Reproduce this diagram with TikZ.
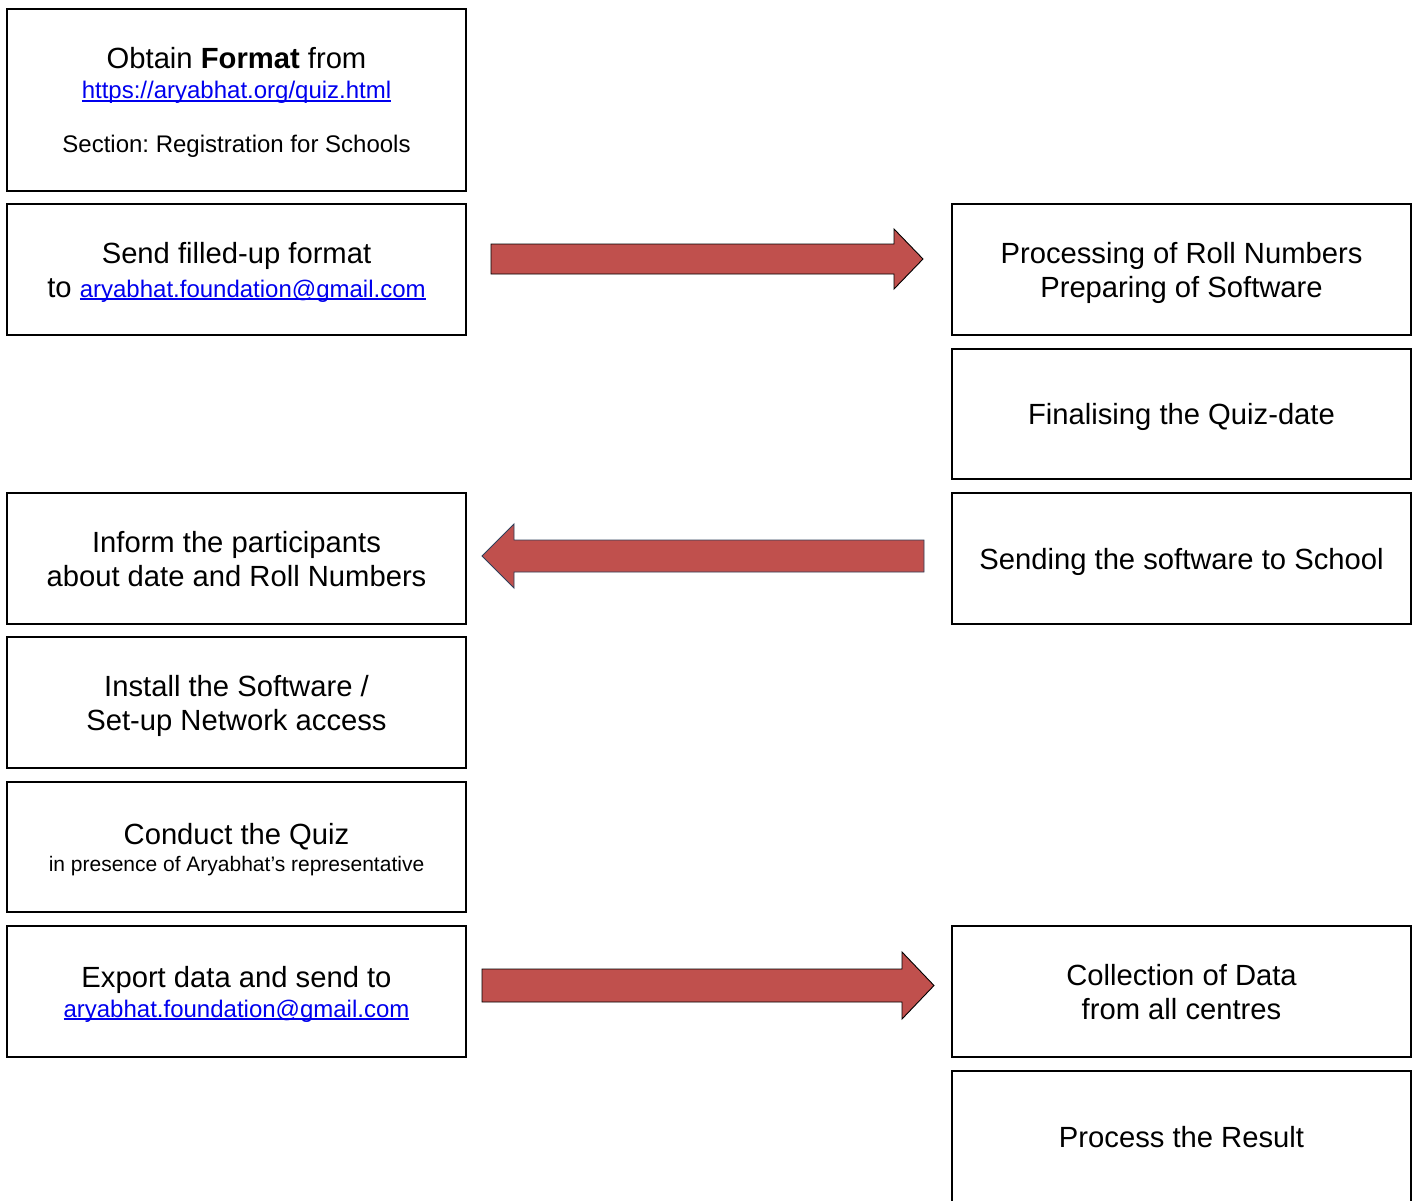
\documentclass[tikz,border=0pt]{standalone}
\usepackage{fontspec}
\setmainfont{Liberation Sans}
\frenchspacing
\definecolor{arrowred}{HTML}{C0504D}
\definecolor{linkblue}{HTML}{0000EE}
\definecolor{navyedge}{HTML}{2E3F5A}
\newcommand\ulink[1]{{\color{linkblue}\setbox0\hbox{#1}\rlap{\rule[-3pt]{\wd0}{1.6pt}}\box0}}
\newcommand\smalltxt{\fontsize{24}{28}\selectfont}
\newcommand\tinytxt{\fontsize{21}{25}\selectfont}
\begin{document}
\begin{tikzpicture}[x=1pt,y=-1pt,
  box/.style={draw=black, line width=2.3pt, fill=white, minimum width=459pt,
    align=center, inner sep=0pt, text depth=0pt, font=\fontsize{29.2}{34}\selectfont},
  bigarrow/.style={fill=arrowred, draw=black, line width=0.9pt, line join=miter}]
\clip (0,0) rectangle (1421,1201);
\fill[white] (0,0) rectangle (1421,1201);

% left column
\node[box, minimum height=182pt] (obtain) at (236.5,100)
  {Obtain \textbf{Format} from\\[-4pt]
   {\smalltxt\ulink{https://aryabhat.org/quiz.html}}\\[20pt]
   {\smalltxt Section: Registration for Schools}};
\node[box, minimum height=131pt] (send) at (236.5,269.5)
  {Send filled-up format\\
   to {\smalltxt\ulink{aryabhat.foundation@gmail.com}}};
\node[box, minimum height=131pt] (inform) at (236.5,558.5)
  {Inform the participants\\about date and Roll Numbers};
\node[box, minimum height=131pt] (install) at (236.5,702.5)
  {Install the Software /\\Set-up Network access};
\node[box, minimum height=130pt] (conduct) at (236.5,847)
  {Conduct the Quiz\\[-7pt]
   {\tinytxt in presence of Aryabhat’s representative}};
\node[box, minimum height=131pt] (export) at (236.5,991.5)
  {Export data and send to\\[-4pt]
   {\smalltxt\ulink{aryabhat.foundation@gmail.com}}};

% right column
\node[box, minimum height=131pt] (process) at (1181.5,269.5)
  {Processing of Roll Numbers\\Preparing of Software};
\node[box, minimum height=130pt] (finalise) at (1181.5,414)
  {Finalising the Quiz-date};
\node[box, minimum height=131pt] (sending) at (1181.5,558.5)
  {Sending the software to School};
\node[box, minimum height=131pt] (collect) at (1181.5,991.5)
  {Collection of Data\\from all centres};
\node[box, minimum height=131pt] (result) at (1181.5,1136.5)
  {Process the Result};

% block arrows
\draw[bigarrow] (491,244) -- (894,244) -- (894,229) -- (923,259)
  -- (894,289) -- (894,274) -- (491,274) -- cycle;
\draw[bigarrow, draw=navyedge] (924,540) -- (514,540) -- (514,524) -- (482,556)
  -- (514,588) -- (514,572) -- (924,572) -- cycle;
\draw[bigarrow] (482,969) -- (902,969) -- (902,952) -- (934,985.5)
  -- (902,1019) -- (902,1002) -- (482,1002) -- cycle;
\end{tikzpicture}
\end{document}
